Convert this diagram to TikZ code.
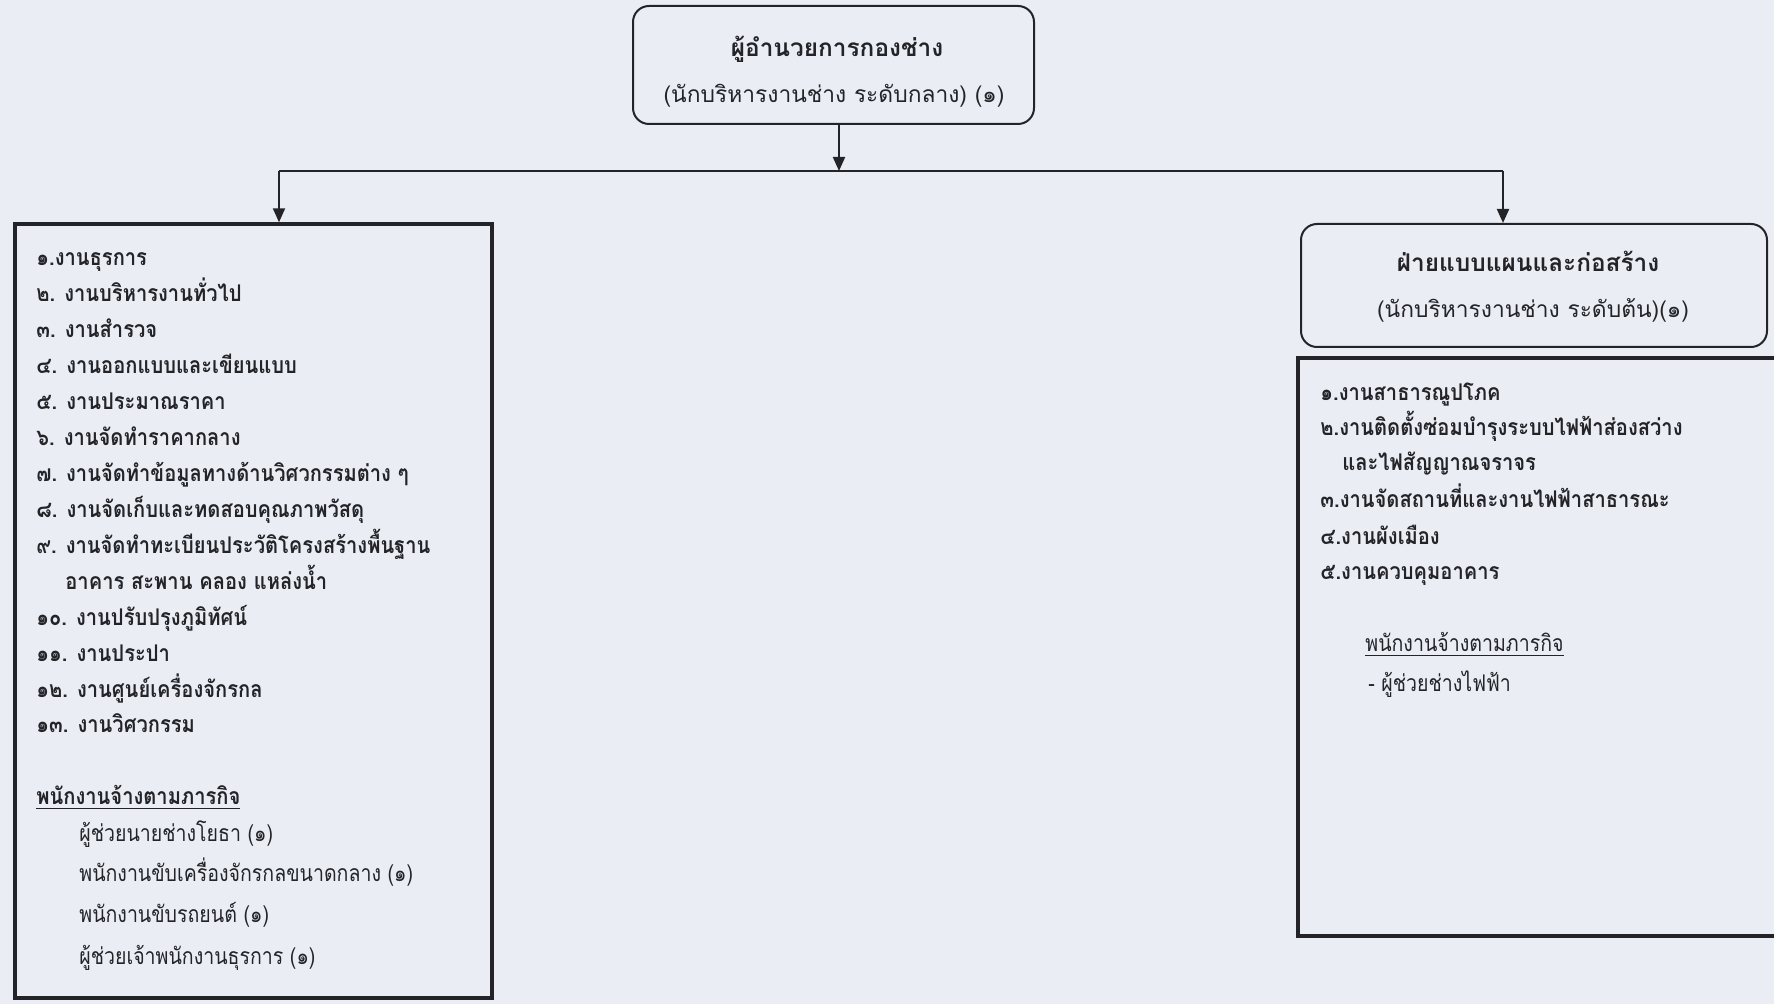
\documentclass[tikz,border=0pt]{standalone}
\usepackage{fontspec}
\setmainfont[Script=Thai]{Loma}
\newfontfamily\listfont[Script=Thai,FakeStretch=0.875]{Loma}
\newfontfamily\stafffont[Script=Thai,FakeStretch=0.85]{Loma}
\usetikzlibrary{arrows.meta,fit}
\definecolor{paper}{RGB}{234,238,244}
\definecolor{ink}{RGB}{36,36,40}
\tikzset{
  roundbox/.style={draw=ink, line width=1pt, rounded corners=8pt, inner sep=0pt},
  squarebox/.style={draw=ink, line width=1.7pt, inner sep=0pt},
  conn/.style={draw=ink, line width=1pt},
  arr/.style={conn, -{Triangle[length=7pt,width=6pt]}},
  item/.style={anchor=base west, inner sep=0pt, text=ink, font=\listfont\bfseries\fontsize{11.5}{13}\selectfont},
  plain/.style={anchor=base west, inner sep=0pt, text=ink, font=\stafffont\fontsize{11.5}{13}\selectfont},
  headb/.style={anchor=base, inner sep=0pt, text=ink, font=\bfseries\fontsize{12.2}{14}\selectfont},
  headr/.style={anchor=base, inner sep=0pt, text=ink, font=\fontsize{11.4}{13}\selectfont},
}
\begin{document}
\begin{tikzpicture}[x=0.5pt,y=-0.5pt]
\useasboundingbox[fill=paper] (0,0) rectangle (1774,1004);

% boxes
\node[roundbox, fit={(633,6) (1034,124)}] (top) {};
\node[squarebox, fit={(15,224) (492,998)}] (leftbox) {};
\node[roundbox, fit={(1301,224) (1767,347)}] (rhead) {};
\node[squarebox, fit={(1298,358) (1800,936)}] (rbox) {};

% connectors
\coordinate (jt) at (839,171);
\coordinate (jl) at (279,171);
\coordinate (jr) at (1503,171);
\draw[arr] (top.south -| jt) -- (jt);
\draw[conn] (jl) -- (jr);
\draw[arr] (jl) -- (jl |- leftbox.north);
\draw[arr] (jr) -- (jr |- rhead.north);

% top box text
\node[headb] (t1) at (837,57) {ผู้อำนวยการกองช่าง};
\node[headr] (t2) at (834,103) {(นักบริหารงานช่าง ระดับกลาง) (๑)};

% right header text
\node[headb] (h1) at (1528,272) {ฝ่ายแบบแผนและก่อสร้าง};
\node[headr] (h2) at (1533,318) {(นักบริหารงานช่าง ระดับต้น)(๑)};

% left list
\node[item] (l1) at (36,266) {๑.งานธุรการ};
\node[item] (l2) at (36,302) {๒. งานบริหารงานทั่วไป};
\node[item] (l3) at (36,338) {๓. งานสำรวจ};
\node[item] (l4) at (36,374) {๔. งานออกแบบและเขียนแบบ};
\node[item] (l5) at (36,410) {๕. งานประมาณราคา};
\node[item] (l6) at (36,446) {๖. งานจัดทำราคากลาง};
\node[item] (l7) at (36,482) {๗. งานจัดทำข้อมูลทางด้านวิศวกรรมต่าง ๆ};
\node[item] (l8) at (36,518) {๘. งานจัดเก็บและทดสอบคุณภาพวัสดุ};
\node[item] (l9) at (36,554) {๙. งานจัดทำทะเบียนประวัติโครงสร้างพื้นฐาน};
\node[item] (l10) at (65,590) {อาคาร สะพาน คลอง แหล่งน้ำ};
\node[item] (l11) at (36,626) {๑๐. งานปรับปรุงภูมิทัศน์};
\node[item] (l12) at (36,662) {๑๑. งานประปา};
\node[item] (l13) at (36,698) {๑๒. งานศูนย์เครื่องจักรกล};
\node[item] (l14) at (36,733) {๑๓. งานวิศวกรรม};
\node[item] (l15) at (36,805) {\underline{พนักงานจ้างตามภารกิจ}};
\node[plain] (l16) at (79,842) {ผู้ช่วยนายช่างโยธา (๑)};
\node[plain] (l17) at (79,882) {พนักงานขับเครื่องจักรกลขนาดกลาง (๑)};
\node[plain] (l18) at (79,923) {พนักงานขับรถยนต์ (๑)};
\node[plain] (l19) at (79,965) {ผู้ช่วยเจ้าพนักงานธุรการ (๑)};

% right list
\node[item] (r1) at (1320,401) {๑.งานสาธารณูปโภค};
\node[item] (r2) at (1320,436) {๒.งานติดตั้งซ่อมบำรุงระบบไฟฟ้าส่องสว่าง};
\node[item] (r3) at (1342,471) {และไฟสัญญาณจราจร};
\node[item] (r4) at (1320,508) {๓.งานจัดสถานที่และงานไฟฟ้าสาธารณะ};
\node[item] (r5) at (1320,545) {๔.งานผังเมือง};
\node[item] (r6) at (1320,580) {๕.งานควบคุมอาคาร};
\node[plain] (r7) at (1365,652) {\underline{พนักงานจ้างตามภารกิจ}};
\node[plain] (r8) at (1368,692) {- ผู้ช่วยช่างไฟฟ้า};
\end{tikzpicture}
\end{document}
